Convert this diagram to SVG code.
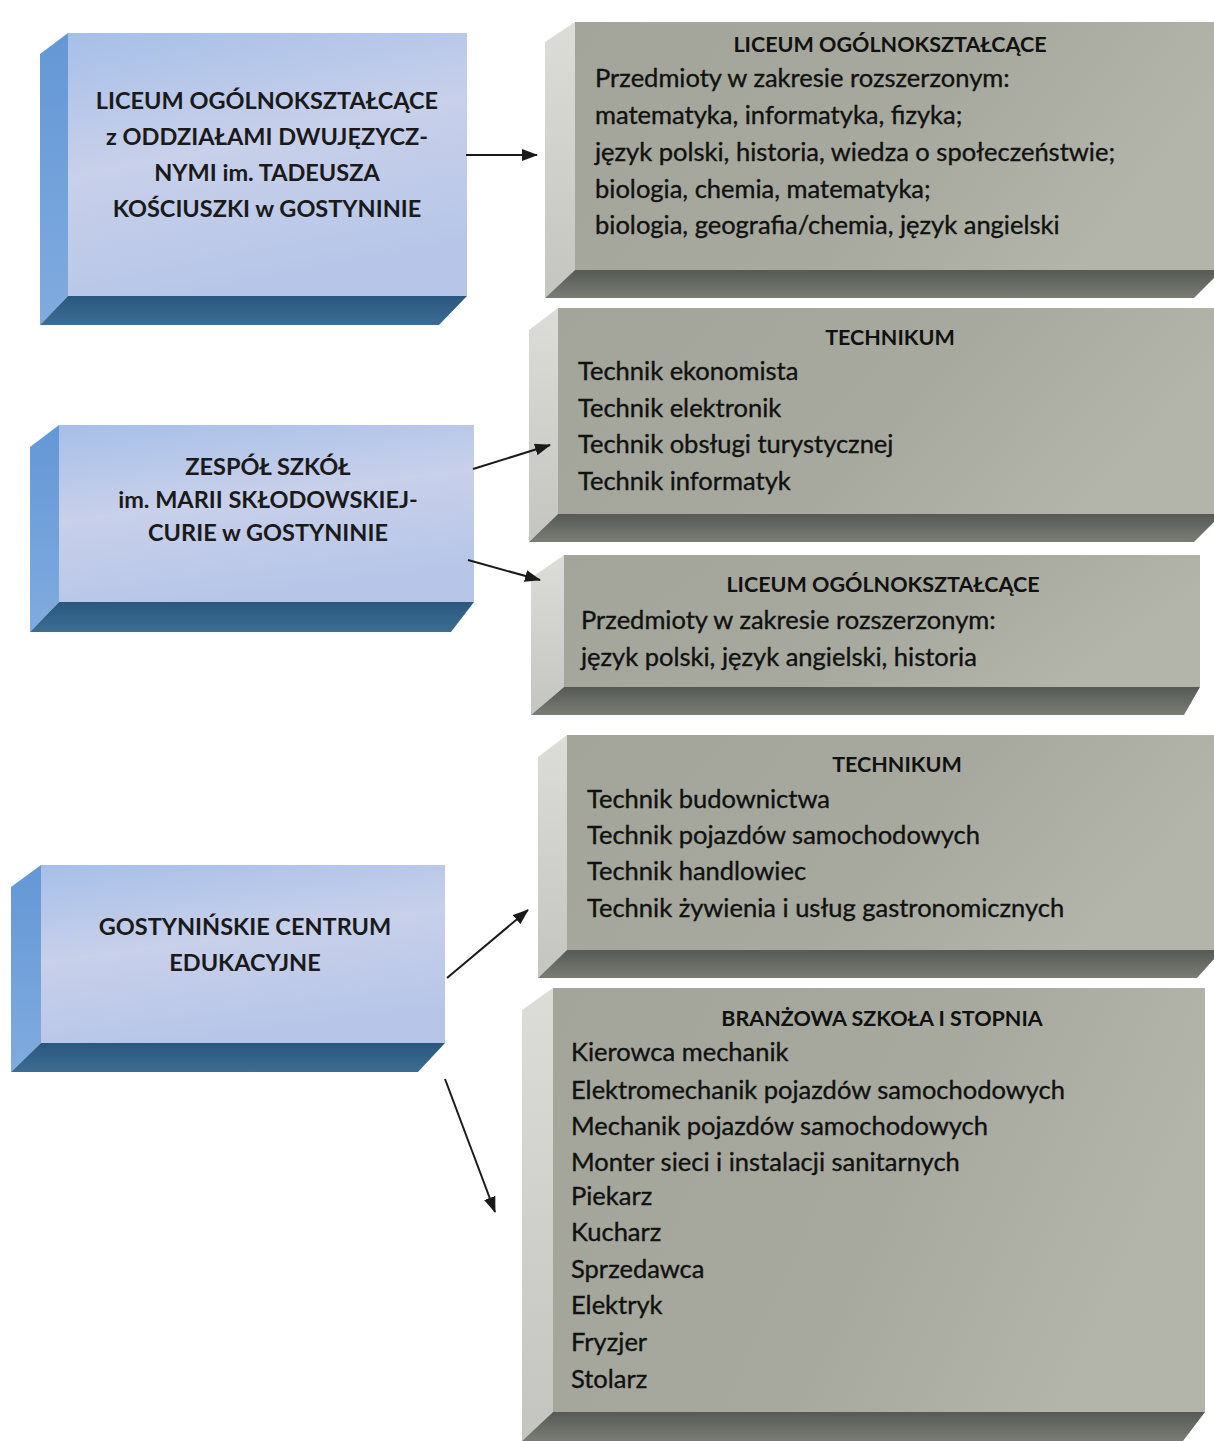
<svg xmlns="http://www.w3.org/2000/svg" width="1214" height="1441" viewBox="0 0 1214 1441">
<style>
.bt{font-family:Lato,"Liberation Sans",sans-serif;font-weight:bold;font-size:23.5px;fill:#1a1a1a;text-anchor:middle}
.gh{font-family:Lato,"Liberation Sans",sans-serif;font-weight:bold;font-size:21.5px;fill:#111;text-anchor:middle}
.gt{font-family:Lato,"Liberation Sans",sans-serif;font-size:25.5px;fill:#111;stroke:#111;stroke-width:0.35}
.conn{stroke:#1a1a1a;stroke-width:2;fill:none;marker-end:url(#ah)}
</style>
<defs>
<linearGradient id="bf" x1="0" y1="0" x2="0.3" y2="1">
<stop offset="0" stop-color="#a6bfe8"/><stop offset="0.5" stop-color="#c8d0ea"/><stop offset="1" stop-color="#b7c6e8"/>
</linearGradient>
<linearGradient id="bl" x1="0" y1="0" x2="0" y2="1">
<stop offset="0" stop-color="#6497d6"/><stop offset="1" stop-color="#80abdf"/>
</linearGradient>
<linearGradient id="bb" x1="0" y1="0" x2="0" y2="1">
<stop offset="0" stop-color="#2a577d"/><stop offset="1" stop-color="#3d6d93"/>
</linearGradient>
<linearGradient id="gf" x1="0" y1="0" x2="1" y2="0.3">
<stop offset="0" stop-color="#a3a59a"/><stop offset="0.6" stop-color="#a7a99e"/><stop offset="1" stop-color="#b3b5ab"/>
</linearGradient>
<linearGradient id="gl" x1="0" y1="0" x2="0" y2="1">
<stop offset="0" stop-color="#dcdcd8"/><stop offset="1" stop-color="#c4c5c0"/>
</linearGradient>
<linearGradient id="gb" x1="0" y1="0" x2="0" y2="1">
<stop offset="0" stop-color="#555a55"/><stop offset="1" stop-color="#7a7d74"/>
</linearGradient>
<marker id="ah" viewBox="0 0 16 12" refX="15" refY="6" markerWidth="16" markerHeight="12" orient="auto" markerUnits="userSpaceOnUse">
<path d="M0,0 L16,6 L0,12 z" fill="#1a1a1a"/>
</marker>
</defs>
<rect width="1214" height="1441" fill="#ffffff"/>

<g id="school1">
<polygon points="68,33 40,54 40,325 68,296" fill="url(#bl)"/>
<polygon points="68,296 467,296 439,325 40,325" fill="url(#bb)"/>
<rect x="68" y="33" width="399" height="263" fill="url(#bf)"/>
<text class="bt" x="267" y="109">LICEUM OGÓLNOKSZTAŁCĄCE</text>
<text class="bt" x="267" y="145">z ODDZIAŁAMI DWUJĘZYCZ-</text>
<text class="bt" x="267" y="181">NYMI  im. TADEUSZA</text>
<text class="bt" x="267" y="217">KOŚCIUSZKI w GOSTYNINIE</text>
</g>

<g id="school2">
<polygon points="59,425 30,447 30,632 59,602" fill="url(#bl)"/>
<polygon points="59,602 474,602 451,632 30,632" fill="url(#bb)"/>
<rect x="59" y="425" width="415" height="177" fill="url(#bf)"/>
<text class="bt" x="268" y="475">ZESPÓŁ SZKÓŁ</text>
<text class="bt" x="268" y="508">im. MARII SKŁODOWSKIEJ-</text>
<text class="bt" x="268" y="541">CURIE w GOSTYNINIE</text>
</g>

<g id="school3">
<polygon points="41,865 11,887 11,1072 41,1043" fill="url(#bl)"/>
<polygon points="41,1043 445,1043 418,1072 11,1072" fill="url(#bb)"/>
<rect x="41" y="865" width="404" height="178" fill="url(#bf)"/>
<text class="bt" x="245" y="935">GOSTYNIŃSKIE CENTRUM</text>
<text class="bt" x="245" y="971">EDUKACYJNE</text>
</g>

<g id="lo1">
<polygon points="575,22 545,42 545,298 575,270" fill="url(#gl)"/>
<polygon points="575,270 1222,270 1194,298 545,298" fill="url(#gb)"/>
<rect x="575" y="22" width="647" height="248" fill="url(#gf)"/>
<text class="gh" x="890" y="52">LICEUM OGÓLNOKSZTAŁCĄCE</text>
<text class="gt" x="595" y="87">Przedmioty w zakresie rozszerzonym:</text>
<text class="gt" x="595" y="124">matematyka, informatyka, fizyka;</text>
<text class="gt" x="595" y="161">język polski, historia, wiedza o społeczeństwie;</text>
<text class="gt" x="595" y="198">biologia, chemia, matematyka;</text>
<text class="gt" x="595" y="234">biologia, geografia/chemia, język angielski</text>
</g>

<g id="tech1">
<polygon points="558,308 529,330 529,542 558,514" fill="url(#gl)"/>
<polygon points="558,514 1222,514 1194,542 529,542" fill="url(#gb)"/>
<rect x="558" y="308" width="664" height="206" fill="url(#gf)"/>
<text class="gh" x="890" y="345">TECHNIKUM</text>
<text class="gt" x="578" y="380">Technik ekonomista</text>
<text class="gt" x="578" y="417">Technik elektronik</text>
<text class="gt" x="578" y="453">Technik obsługi turystycznej</text>
<text class="gt" x="578" y="490">Technik informatyk</text>
</g>

<g id="lo2">
<polygon points="564,555 531,578 531,715 564,687" fill="url(#gl)"/>
<polygon points="564,687 1200,687 1184,715 531,715" fill="url(#gb)"/>
<rect x="564" y="555" width="636" height="132" fill="url(#gf)"/>
<text class="gh" x="883" y="592">LICEUM OGÓLNOKSZTAŁCĄCE</text>
<text class="gt" x="581" y="629">Przedmioty w zakresie rozszerzonym:</text>
<text class="gt" x="581" y="666">język polski, język angielski, historia</text>
</g>

<g id="tech2">
<polygon points="567,735 538,757 538,978 567,950" fill="url(#gl)"/>
<polygon points="567,950 1222,950 1197,978 538,978" fill="url(#gb)"/>
<rect x="567" y="735" width="655" height="215" fill="url(#gf)"/>
<text class="gh" x="897" y="772">TECHNIKUM</text>
<text class="gt" x="587" y="808">Technik budownictwa</text>
<text class="gt" x="587" y="844">Technik pojazdów samochodowych</text>
<text class="gt" x="587" y="880">Technik handlowiec</text>
<text class="gt" x="587" y="917">Technik żywienia i usług gastronomicznych</text>
</g>

<g id="branz">
<polygon points="553,988 522,1010 522,1441 553,1412" fill="url(#gl)"/>
<polygon points="553,1412 1205,1412 1183,1441 522,1441" fill="url(#gb)"/>
<rect x="553" y="988" width="652" height="424" fill="url(#gf)"/>
<text class="gh" x="882" y="1026">BRANŻOWA SZKOŁA I STOPNIA</text>
<text class="gt" x="571" y="1061">Kierowca mechanik</text>
<text class="gt" x="571" y="1099">Elektromechanik pojazdów samochodowych</text>
<text class="gt" x="571" y="1135">Mechanik pojazdów samochodowych</text>
<text class="gt" x="571" y="1171">Monter sieci i instalacji sanitarnych</text>
<text class="gt" x="571" y="1205">Piekarz</text>
<text class="gt" x="571" y="1241">Kucharz</text>
<text class="gt" x="571" y="1278">Sprzedawca</text>
<text class="gt" x="571" y="1314">Elektryk</text>
<text class="gt" x="571" y="1351">Fryzjer</text>
<text class="gt" x="571" y="1388">Stolarz</text>
</g>

<g id="connectors">
<line class="conn" x1="466" y1="155" x2="537" y2="155"/>
<line class="conn" x1="473" y1="469" x2="550" y2="445"/>
<line class="conn" x1="468" y1="560" x2="540" y2="580"/>
<line class="conn" x1="447" y1="978" x2="528" y2="910"/>
<line class="conn" x1="445" y1="1079" x2="495" y2="1212"/>
</g>
</svg>
